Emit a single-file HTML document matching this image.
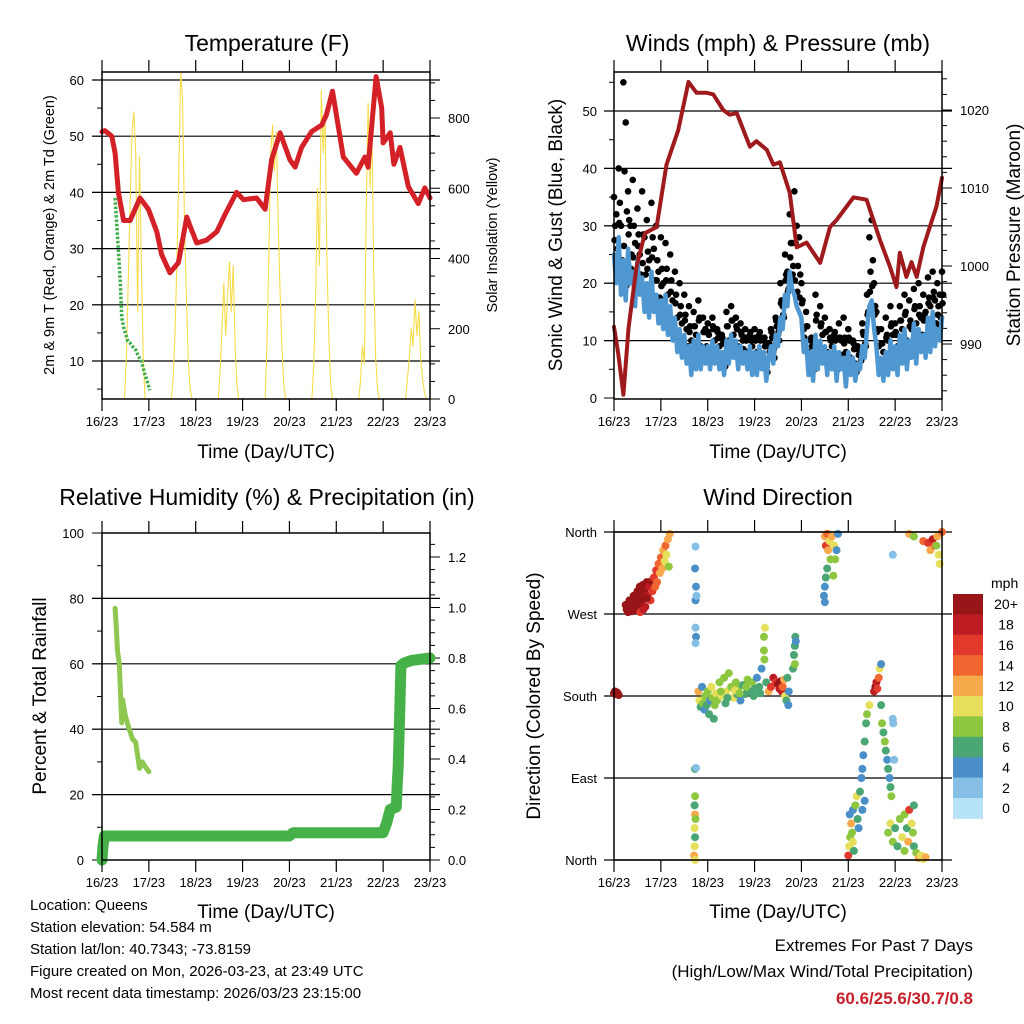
<!DOCTYPE html>
<html><head><meta charset="utf-8">
<style>
html,body{margin:0;padding:0;background:#fff;}
svg{display:block;font-family:"Liberation Sans",sans-serif;}
</style></head>
<body>
<svg id="chart" width="1024" height="1024" viewBox="0 0 1024 1024" xmlns="http://www.w3.org/2000/svg">
<rect width="1024" height="1024" fill="#fff"/>
<g id="p1"></g>
<g id="p2"></g>
<g id="p3"></g>
<g id="p4"></g>
<g font-size="15" fill="#000">
<text x="30" y="910">Location: Queens</text>
<text x="30" y="932">Station elevation: 54.584 m</text>
<text x="30" y="954">Station lat/lon: 40.7343; -73.8159</text>
<text x="30" y="976">Figure created on Mon, 2026-03-23, at 23:49 UTC</text>
<text x="30" y="998">Most recent data timestamp: 2026/03/23 23:15:00</text>
</g>
<g text-anchor="end">
<text x="973" y="951" font-size="17">Extremes For Past 7 Days</text>
<text x="973" y="977" font-size="17">(High/Low/Max Wind/Total Precipitation)</text>
<text x="973" y="1004" font-size="17" font-weight="bold" fill="#c8202a">60.6/25.6/30.7/0.8</text>
</g>
</svg>
<script>
// ---------- data ----------
const dayLabels = ["16/23","17/23","18/23","19/23","20/23","21/23","22/23","23/23"];
const tempDays = [0,0.06,0.21,0.28,0.35,0.46,0.6,0.81,0.99,1.17,1.27,1.45,1.63,1.81,1.88,2.02,2.23,2.45,2.62,2.87,3.02,3.3,3.48,3.62,3.8,4.01,4.12,4.26,4.47,4.69,4.79,4.92,5.15,5.43,5.61,5.68,5.85,5.97,6.0,6.15,6.23,6.36,6.54,6.75,6.89,7.0];
const tempVals = [50.8,51,50,47,40,35,35,39,37,33,29,25.7,27.5,35.6,34,31,31.5,33,36,40,38.7,39,37,45.8,50.6,45.8,44.5,48,50.8,52,53.8,58,46.3,43.4,46.3,44.5,60.6,55,48.8,50.6,45,48,41,38,40.8,39];
const dewDays = [0.28,0.31,0.35,0.39,0.42,0.46,0.5,0.55,0.6,0.66,0.72,0.78,0.84,0.9,0.96,1.02];
const dewVals = [39,35,29.7,24,17.8,16,15,13.5,13.2,12.5,12,10.8,10,8,6.5,4.8];
const solarHours = [0.48,0.52,0.56,0.6,0.64,0.68,0.72,0.76,0.8,0.84,0.88,0.92];
const solarDay0 = [0,120,330,560,760,817,700,250,690,380,120,0];
const solarDay1 = [0,60,200,400,650,930,850,500,300,120,30,0];
const solarDay2 = [0,80,200,330,180,300,390,250,380,150,40,0];
const solarDay3 = [0,150,400,700,780,650,760,500,300,150,40,0];
const solarDay4 = [0,100,300,600,380,880,700,820,400,180,40,0];
const solarDay5 = [0,60,150,100,550,843,600,780,350,120,30,0];
const solarDay6 = [0,60,120,200,150,282,180,250,120,60,20,0];
const windStep = 0.05;
const gustVals = [35,32,40,30,55,48,36,30,38,27,33,25,36,28,31,24,34,26,30,22,
28,20,27,18,25,17,22,14,20,13,18,12,16,10,15,11,17,9,14,12,
13,8,14,10,12,9,11,7,15,10,16,11,14,9,13,10,12,8,11,9,
12,8,11,7,10,6,9,12,8,14,11,20,16,25,22,32,27,36,30,28,
20,12,15,8,10,7,18,9,16,11,14,8,12,9,11,7,13,10,14,8,
12,7,10,6,9,8,13,11,18,28,31,20,15,9,12,8,14,10,16,11,
13,9,16,12,18,10,17,12,19,13,20,14,18,15,21,16,22,17,20,18,22];
const windVals = [25,20,28,18,24,17,26,20,22,16,24,18,21,15,20,14,22,15,18,13,
17,12,18,11,16,10,14,8,12,7,11,6,9,4,10,5,11,5,9,6,
9,5,10,6,9,5,8,4,10,6,11,7,10,5,9,6,8,5,9,4,
8,4,9,5,8,3,7,9,6,11,9,14,12,18,16,22,19,18,16,15,
14,8,10,4,8,3,11,5,10,6,9,4,8,5,9,3,8,5,7,2,
8,4,7,3,6,5,9,7,12,16,17,12,9,4,7,3,8,4,10,5,
9,4,11,6,12,5,10,7,13,6,12,8,11,7,14,8,15,9,12,10,14];
const presDays = [0,0.09,0.2,0.31,0.48,0.66,0.91,1.12,1.37,1.59,1.76,1.98,2.12,2.33,2.47,2.62,2.9,3.04,3.26,3.4,3.54,3.75,3.9,4.11,4.4,4.61,4.75,5.11,5.39,5.68,5.89,6.03,6.1,6.24,6.35,6.46,6.6,6.74,6.88,7.0];
const presVals = [992.2,988.8,983.5,992,999.9,1004.2,1005,1013,1017.4,1023.6,1022.2,1022.2,1022,1020,1019.4,1019.6,1015.3,1016,1014.9,1013,1013.3,1009.4,1002.4,1003,1000.4,1005,1005.9,1008.8,1008.5,1003.3,999.9,997.3,1001.7,998.6,1000.5,998.6,1002.4,1005,1007.6,1011.3];
const rhDays = [0.28,0.31,0.33,0.37,0.42,0.44,0.5,0.58,0.65,0.72,0.8,0.86,0.9,0.95,1.0];
const rhVals = [77,70,64,60,42,49,44,40,37,36,28,30,29,28,27];
const precipDays = [0,0.02,0.05,4.0,4.08,6.0,6.08,6.15,6.28,6.3,6.32,6.35,6.38,6.45,6.6,7.0];
const precipVals = [0,0.05,0.095,0.095,0.108,0.108,0.15,0.2,0.21,0.3,0.36,0.55,0.77,0.78,0.79,0.8];
const dirObs = [[0.0,183,22],[0.02,185,22],[0.04,182,21],[0.06,184,22],[0.08,183,21],[0.1,181,20],
[0.25,280,20],[0.27,275,22],[0.3,272,21],[0.33,285,22],[0.36,278,20],[0.4,283,22],[0.42,290,21],[0.45,275,22],[0.48,288,22],[0.5,295,20],[0.53,280,21],[0.55,300,22],[0.58,292,22],[0.6,285,19],[0.62,302,21],[0.65,296,22],[0.67,278,17],[0.7,305,20],[0.72,290,17],[0.75,300,18],[0.78,285,16],[0.8,306,19],[0.82,295,15],[0.85,310,16],[0.88,300,14],[0.9,318,15],[0.92,305,13],[0.95,325,14],[0.98,315,12],[1.0,332,13],[1.03,320,11],[1.05,340,12],[1.08,328,10],[1.1,345,13],[1.12,335,9],[1.15,352,11],[1.17,322,8],[1.19,358,12],[0.38,273,21],[0.44,276,20],[0.56,272,16],[0.63,275,17],[0.32,276,22],[0.52,283,22],[0.7,287,20],
[1.74,344,2],[1.73,320,4],[1.75,300,3],[1.74,285,4],[1.76,290,2],[1.74,255,2],[1.75,245,3],[1.74,238,2],[1.73,100,6],[1.75,101,2],[1.73,70,7],[1.72,60,6],[1.73,50,12],[1.74,45,8],[1.72,35,10],[1.73,25,6],[1.72,15,10],[1.71,5,12],[1.73,0,10],
[1.8,185,12],[1.82,175,10],[1.85,168,6],[1.88,190,4],[1.9,172,8],[1.93,165,4],[1.95,180,8],[1.98,170,6],[2.0,185,8],[2.03,160,6],[2.05,175,4],[2.08,190,9],[2.1,178,8],[2.13,155,6],[2.15,170,8],[2.18,183,10],[2.2,175,8],[2.25,195,7],[2.3,180,9],[2.35,200,8],[2.38,172,6],[2.4,185,10],[2.45,205,7],[2.5,190,8],[2.55,178,10],[2.6,195,8],[2.63,182,6],[2.65,188,8],[2.7,175,4],[2.75,192,6],[2.8,182,6],[2.85,198,7],[2.9,185,6],[2.95,195,8],[3.0,188,6],[3.05,200,4],[3.1,190,6],[3.15,210,4],[3.2,245,8],[3.2,230,8],[3.21,220,8],[3.22,255,9],[3.25,195,6],[3.3,185,12],[3.35,190,16],[3.4,200,18],[3.45,195,16],[2.28,185,8],[2.42,178,6],[2.58,186,10],[2.68,183,8],[2.82,190,8],[2.98,180,6],[3.12,183,6],
[3.5,193,20],[3.53,188,18],[3.55,196,20],[3.58,185,18],[3.6,190,14],[3.63,198,12],[3.65,180,10],[3.68,175,6],[3.7,200,6],[3.73,185,4],[3.72,170,4],
[3.82,210,6],[3.84,225,6],[3.86,235,6],[3.87,245,5],[3.88,240,4],[3.86,215,8],
[4.5,355,12],[4.52,345,16],[4.55,358,14],[4.57,340,12],[4.6,350,10],[4.62,330,8],[4.55,320,6],[4.52,310,6],[4.5,300,4],[4.48,290,4],[4.5,283,4],[4.65,355,12],[4.7,345,10],[4.72,330,8],[4.75,340,4],[4.78,358,4],[4.68,312,8],
[5.0,5,16],[5.02,15,10],[5.04,25,8],[5.06,40,12],[5.03,50,4],[5.08,30,8],[5.1,20,10],[5.12,10,6],[5.1,55,4],[5.15,60,8],[5.18,70,10],[5.2,45,6],[5.22,35,4],[5.25,75,6],[5.28,90,4],[5.3,100,3],[5.32,115,4],[5.35,130,5],[5.38,150,6],[5.4,160,8],[5.45,170,10],[5.35,65,4],[5.3,55,4],
[5.55,185,18],[5.58,190,20],[5.6,195,18],[5.62,188,16],[5.65,200,14],[5.67,210,10],[5.7,215,4],
[5.7,170,6],[5.72,150,8],[5.75,140,6],[5.78,130,8],[5.8,120,6],[5.83,110,4],[5.85,100,6],[5.88,90,4],[5.9,80,6],[5.92,70,8],[5.95,155,2],[5.96,150,2],[5.98,110,2],
[5.85,30,8],[5.9,40,10],[5.95,20,8],[6.0,35,6],[6.05,15,6],[6.1,45,8],[6.15,25,10],[6.2,50,8],[6.25,35,6],[6.28,20,12],[6.3,55,16],[6.35,40,10],[6.38,30,8],[6.4,15,6],[6.45,8,8],[6.5,2,12],[6.55,5,10],[6.6,1,10],[6.65,3,12],[6.4,60,6],[6.2,10,8],
[6.3,358,12],[6.4,355,8],[6.6,350,14],[6.7,348,16],[6.75,340,12],[6.8,352,18],[6.85,345,14],[6.9,355,12],[6.93,335,10],[6.95,325,10],[7.0,360,14],[5.95,335,2],[6.88,345,8]];
const speedLabels = ["0","2","4","6","8","10","12","14","16","18","20+"];
const speedColors = ["#b7e3f8","#86bfe6","#4a8fc8","#4aa673","#8dc63f","#e6df5b","#f7aa4b","#ef6630","#e13a2c","#bd1c23","#981518"];

// ---------- helpers ----------
const NS="http://www.w3.org/2000/svg";
function mk(parent,tag,attrs,txt){const e=document.createElementNS(NS,tag);for(const k in attrs)e.setAttribute(k,attrs[k]);if(txt!==undefined)e.textContent=txt;parent.appendChild(e);return e;}
function lin(d0,d1,r0,r1){return v=>r0+(v-d0)*(r1-r0)/(d1-d0);}

function frame(g,L,R,T,B,xs,lbY){
  dayLabels.forEach((lab,i)=>{
    const x=xs(i);
    const t=mk(g,'line',{x1:x,x2:x,y1:T-12,y2:T,stroke:'#000','stroke-width':1.2});
    
    const b=mk(g,'line',{x1:x,x2:x,y1:B,y2:B+12,stroke:'#000','stroke-width':1.2});
    
    const tx=mk(g,'text',{x:x,y:B+27,'font-size':13,'text-anchor':'middle'},lab);
    
  });
  const xt=mk(g,'text',{x:(L+R)/2,y:lbY,'font-size':19,'text-anchor':'middle'},'Time (Day/UTC)');
  
}
function box(g,L,R,T,B){
  const r=mk(g,'rect',{x:L,y:T,width:R-L,height:B-T,fill:'none',stroke:'#000','stroke-width':1.5});
  
}
function grid(g,L,R,y){const l=mk(g,'line',{x1:L-10,x2:R+10,y1:y,y2:y,stroke:'#000','stroke-width':1.2});
  }
function ytickL(g,L,y,len){const l=mk(g,'line',{x1:L-len,x2:L,y1:y,y2:y,stroke:'#000','stroke-width':1});
  }
function ytickR(g,R,y,len){const l=mk(g,'line',{x1:R,x2:R+len,y1:y,y2:y,stroke:'#000','stroke-width':1});
  }
function title(g,x,y,s){const t=mk(g,'text',{x:x,y:y,'font-size':23,'text-anchor':'middle'},s);
  }
function vtitle(g,x,y,s,fs,name){const t=mk(g,'text',{x:x,y:y,'font-size':fs,'text-anchor':'middle',transform:`rotate(-90 ${x} ${y})`},s);
  }
function path(g,xs,ys,X,Y,attrs,name){
  let d='';X.forEach((v,i)=>{d+=(i?'L':'M')+xs(v).toFixed(1)+','+ys(Y[i]).toFixed(1);});
  const p=mk(g,'path',Object.assign({d:d,fill:'none','stroke-linejoin':'round','stroke-linecap':'round'},attrs));
  return p;}

// ---------- Panel 1: Temperature ----------
(function(){
  const g=document.getElementById('p1');
  const L=102,R=430,T=72,B=399;
  const xs=lin(0,7,L,R), ys=lin(10,60,361,80), ss=lin(0,800,B,118);
  title(g,267,51,'Temperature (F)');
  [10,20,30,40,50,60].forEach(v=>{grid(g,L,R,ys(v));ytickL(g,L,ys(v),10);
    const t=mk(g,'text',{x:84,y:ys(v)+5,'font-size':13,'text-anchor':'end'},String(v));
    });
  [5,15,25,35,45,55].forEach(v=>ytickL(g,L,ys(v),5));
  [0,200,400,600,800].forEach(v=>{ytickR(g,R,ss(v),10);
    const t=mk(g,'text',{x:448,y:ss(v)+5,'font-size':13},String(v));
    });
  [50,100,150,250,300,350,450,500,550,650,700,750,850,900].forEach(v=>ytickR(g,R,ss(v),5));
  const sets=[solarDay0,solarDay1,solarDay2,solarDay3,solarDay4,solarDay5,solarDay6];
  sets.forEach((arr,k)=>{path(g,xs,ss,solarHours.map(h=>h+k),arr,{stroke:'#f7dc4a','stroke-width':1.1},'solar-insolation-line');});
  path(g,xs,ys,tempDays,tempVals,{stroke:'#d42027','stroke-width':5},'temperature-line');
  path(g,xs,ys,dewDays,dewVals,{stroke:'#3fae49','stroke-width':3.5,'stroke-dasharray':'2.5 1.8','stroke-linecap':'butt'},'dewpoint-line');
  box(g,L,R,T,B);
  frame(g,L,R,T,B,i=>xs(i),458);
  vtitle(g,54,235,'2m & 9m T (Red, Orange) & 2m Td (Green)',14.5,'y-axis-title');
  vtitle(g,497,235,'Solar Insolation (Yellow)',14.5,'y2-axis-title');
})();

// ---------- Panel 2: Winds & Pressure ----------
(function(){
  const g=document.getElementById('p2');
  const L=614,R=942,T=72,B=399;
  const xs=lin(0,7,L,R), ys=lin(0,50,398,111), ps=lin(990,1020,344,110);
  title(g,778,51,'Winds (mph) & Pressure (mb)');
  [0,10,20,30,40,50].forEach(v=>{if(v>0)grid(g,L,R,ys(v));ytickL(g,L,ys(v),10);
    const t=mk(g,'text',{x:597,y:ys(v)+5,'font-size':13,'text-anchor':'end'},String(v));
    });
  [5,15,25,35,45,55].forEach(v=>ytickL(g,L,ys(v),5));
  [990,1000,1010,1020].forEach(v=>{ytickR(g,R,ps(v),10);
    const t=mk(g,'text',{x:960,y:ps(v)+5,'font-size':13},String(v));
    });
  [984,986,988,992,994,996,998,1002,1004,1006,1008,1012,1014,1016,1018,1022,1024].forEach(v=>ytickR(g,R,ps(v),5));
  const tDays=gustVals.map((v,i)=>i*windStep);
  gustVals.forEach((v,i)=>{
    const c=mk(g,'circle',{cx:xs(tDays[i]),cy:ys(v),r:3.3,fill:'#000'});
    
    
    const m=(v+windVals[i])/2;
    const c2=mk(g,'circle',{cx:xs(tDays[i]+0.025),cy:ys(m),r:3.3,fill:'#000'});
    
    
    const c3=mk(g,'circle',{cx:xs(tDays[i]+0.012),cy:ys(windVals[i]+2.5),r:3.3,fill:'#000'});
    
    
  });
  path(g,xs,ys,tDays,windVals,{stroke:'#4f97d1','stroke-width':4.5},'wind-speed-line');
  path(g,xs,ps,presDays,presVals,{stroke:'#9e1a1d','stroke-width':4},'pressure-line');
  box(g,L,R,T,B);
  frame(g,L,R,T,B,i=>xs(i),458);
  vtitle(g,562,235,'Sonic Wind & Gust (Blue, Black)',19,'y-axis-title');
  vtitle(g,1020,235,'Station Pressure (Maroon)',19,'y2-axis-title');
})();

// ---------- Panel 3: RH & Precip ----------
(function(){
  const g=document.getElementById('p3');
  const L=102,R=430,T=533,B=860;
  const xs=lin(0,7,L,R), ys=lin(0,100,B,T), ps=lin(0,1.2,B,557);
  title(g,267,505,'Relative Humidity (%) & Precipitation (in)');
  [0,20,40,60,80,100].forEach(v=>{if(v>0&&v<100)grid(g,L,R,ys(v));ytickL(g,L,ys(v),10);
    const t=mk(g,'text',{x:84,y:ys(v)+5,'font-size':13,'text-anchor':'end'},String(v));
    });
  [10,30,50,70,90].forEach(v=>ytickL(g,L,ys(v),5));
  [0,0.2,0.4,0.6,0.8,1.0,1.2].forEach(v=>{ytickR(g,R,ps(v),10);
    const t=mk(g,'text',{x:448,y:ps(v)+5,'font-size':13},v.toFixed(1));
    });
  [0.05,0.1,0.15,0.25,0.3,0.35,0.45,0.5,0.55,0.65,0.7,0.75,0.85,0.9,0.95,1.05,1.1,1.15,1.25].forEach(v=>ytickR(g,R,ps(v),5));
  path(g,xs,ys,rhDays,rhVals,{stroke:'#8fc850','stroke-width':5},'humidity-line');
  path(g,xs,ps,precipDays,precipVals,{stroke:'#46b148','stroke-width':11},'precip-line');
  box(g,L,R,T,B);
  frame(g,L,R,T,B,i=>xs(i),918);
  vtitle(g,46,696,'Percent & Total Rainfall',19,'y-axis-title');
})();

// ---------- Panel 4: Wind direction ----------
(function(){
  const g=document.getElementById('p4');
  const L=614,R=942,T=532,B=860;
  const xs=lin(0,7,L,R), ds=lin(0,360,B,T);
  title(g,778,505,'Wind Direction');
  const dirLabels=["North","East","South","West","North"];
  dirLabels.forEach((lab,i)=>{const y=ds(i*90);grid(g,L,R,y);ytickL(g,L,y,10);
    const t=mk(g,'text',{x:597,y:y+5,'font-size':13,'text-anchor':'end'},lab);
    });
  dirObs.forEach(o=>{
    const idx=Math.min(10,Math.round(o[2]/2));
    const c=mk(g,'circle',{cx:xs(o[0]),cy:ds(o[1]),r:4,fill:speedColors[idx]});
    
    
  });
  box(g,L,R,T,B);
  frame(g,L,R,T,B,i=>xs(i),918);
  vtitle(g,540,696,'Direction (Colored By Speed)',19,'y-axis-title');
  const lg=mk(g,'g',{});
  
  const mt=mk(lg,'text',{x:991,y:588,'font-size':14},'mph');
  
  const top=594,h=20.4;
  speedLabels.forEach((lab,i)=>{
    const j=10-i;
    const y=top+i*h;
    const r=mk(lg,'rect',{x:953,y:y,width:30,height:h+0.5,fill:speedColors[j]});
    
    const t=mk(lg,'text',{x:1006,y:y+h/2+5,'font-size':14,'text-anchor':'middle'},speedLabels[j]);
    
  });
})();
</script>
</body></html>
